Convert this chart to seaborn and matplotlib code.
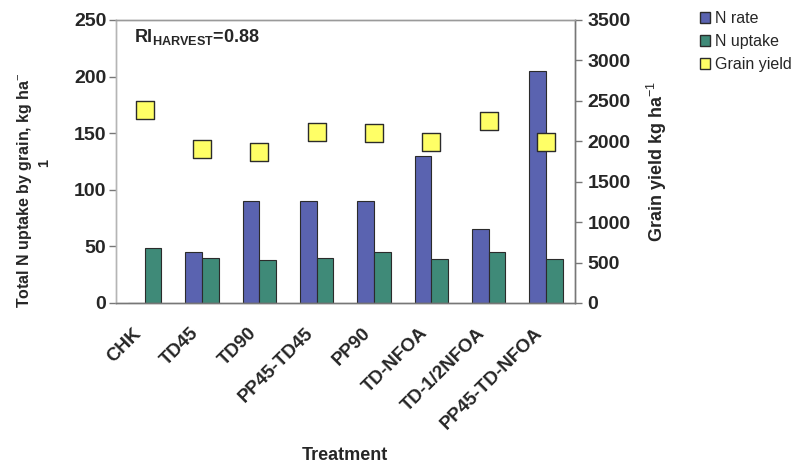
import matplotlib
matplotlib.use("Agg")
import matplotlib.pyplot as plt
import matplotlib.transforms as mtransforms
from matplotlib.patches import Patch
import seaborn as sns
import pandas as pd
import numpy as np

treatments = ["CHK", "TD45", "TD90", "PP45-TD45", "PP90", "TD-NFOA",
              "TD-1/2NFOA", "PP45-TD-NFOA"]
n_rate = [0, 45, 90, 90, 90, 130, 65, 205]
n_uptake = [49, 39.5, 38, 40, 45, 39, 45, 39]
grain_yield = [2390, 1905, 1865, 2110, 2105, 1990, 2255, 1990]

left_ticks = [0, 50, 100, 150, 200, 250]
right_ticks = [0, 500, 1000, 1500, 2000, 2500, 3000, 3500]

c_rate = "#5A63B0"
c_uptake = "#3F8A78"
c_yield = "#FFFF66"
edge = "#2b2b2b"

sns.set_theme(style="white")
plt.rcParams["font.family"] = ["Liberation Sans", "DejaVu Sans"]
plt.rcParams["mathtext.fontset"] = "custom"
plt.rcParams["mathtext.rm"] = "Liberation Sans"
plt.rcParams["mathtext.bf"] = "Liberation Sans:bold"

bars = pd.DataFrame({
    "Treatment": treatments * 2,
    "value": n_rate + n_uptake,
    "series": ["N rate"] * len(treatments) + ["N uptake"] * len(treatments),
})
points = pd.DataFrame({"Treatment": treatments, "yield": grain_yield})

fig = plt.figure(figsize=(7.95, 4.68), dpi=100)
ax = fig.add_axes([0.146, 0.3526, 0.577, 0.6047])

sns.barplot(data=bars, x="Treatment", y="value", hue="series",
            order=treatments, hue_order=["N rate", "N uptake"],
            palette=[c_rate, c_uptake], width=0.58, gap=0,
            edgecolor=edge, linewidth=0.8, saturation=1,
            legend=False, ax=ax)

ax.set_xlim(-0.5, len(treatments) - 0.5)
ax.set_ylim(0, 250)
ax.set_yticks(left_ticks)

ax2 = ax.twinx()
sns.scatterplot(data=points, x="Treatment", y="yield", marker="s", s=155,
                color=c_yield, edgecolor=edge, linewidth=1.0, ax=ax2,
                zorder=5, legend=False)
ax2.set_ylim(0, 3500)
ax2.set_yticks(right_ticks)
ax.set_xlim(-0.5, len(treatments) - 0.5)

# tick styling
ax.set_xticks(range(len(treatments)))
ax.set_xticklabels(treatments, rotation=45, ha="right", va="center",
                   rotation_mode="anchor", fontsize=13.5, fontweight="bold")
ax.tick_params(axis="x", which="major", length=0, pad=20)
shift = mtransforms.ScaledTranslation(-6 / 100, 0, fig.dpi_scale_trans)
for lab in ax.get_xticklabels():
    lab.set_transform(lab.get_transform() + shift)
ax.set_xticks(np.arange(-0.5, len(treatments)), minor=True)
ax.tick_params(axis="x", which="minor", length=5, width=1, color="#777777",
               direction="out")
ax.tick_params(axis="y", length=5, width=1, color="#777777", direction="out",
               labelsize=14, pad=2)
ax2.tick_params(axis="y", length=5, width=1, color="#777777", direction="out",
                labelsize=14, pad=4)
for lab in ax.get_yticklabels() + ax2.get_yticklabels():
    lab.set_fontweight("bold")

for a in (ax, ax2):
    a.spines["left"].set_color("#b5b5b5")
    a.spines["top"].set_color("#9a9a9a")
    a.spines["bottom"].set_color("#777777")
    a.spines["right"].set_color("#777777")
    for s in a.spines.values():
        s.set_linewidth(1.0)

ax.set_xlabel("Treatment", fontsize=13, fontweight="bold")
ax.xaxis.set_label_coords(0.499, -0.51)
ax2.set_xlabel("")
ax.set_ylabel("Total N uptake by grain, kg ha$^{-}$", fontsize=11.5,
              fontweight="bold")
ax.yaxis.set_label_coords(-0.178, 0.40)
fig.text(44 / 795, 1 - 163 / 468, "1", rotation=90, ha="center",
         va="center", fontsize=10.5, fontweight="bold")
ax2.set_ylabel("Grain yield kg ha$^{-1}$", fontsize=13, fontweight="bold",
               labelpad=10)

ax.text(0.04, 0.975, r"RI$_{\mathbf{HARVEST}}$=0.88", transform=ax.transAxes,
        ha="left", va="top", fontsize=13, fontweight="bold")

handles = [Patch(facecolor=c_rate, edgecolor=edge, label="N rate"),
           Patch(facecolor=c_uptake, edgecolor=edge, label="N uptake"),
           Patch(facecolor=c_yield, edgecolor=edge, label="Grain yield")]
fig.legend(handles=handles, loc="upper left", bbox_to_anchor=(0.872, 0.99),
           frameon=False, fontsize=11.5, handlelength=0.65, handleheight=0.65,
           handletextpad=0.3, labelspacing=0.5, borderaxespad=0)

fig.savefig("out.png", dpi=100)
